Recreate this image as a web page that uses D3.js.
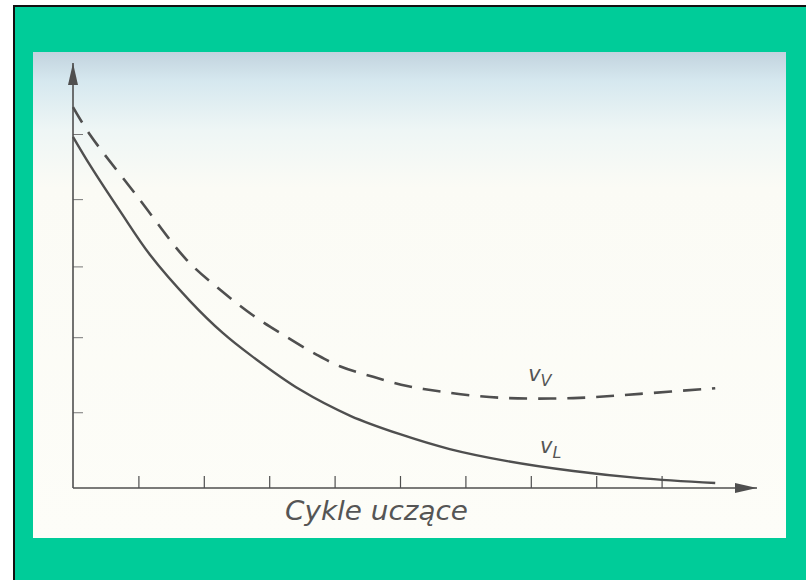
<!DOCTYPE html>
<html>
<head>
<meta charset="utf-8">
<script src="https://cdn.jsdelivr.net/npm/d3@7"></script>
<style>
  html, body { margin: 0; padding: 0; background: #fff; }
  svg { display: block; }
</style>
</head>
<body>
<div id="chart"></div>
<script>
// Data (x in learning cycles, y in arbitrary units)
const xTicks = [1, 2, 3, 4, 5, 6, 7, 8, 9];
const yTicks = [1.07, 2.13, 3.13, 4.08, 5];
const learnX = [0, 0.26, 0.72, 1.18, 1.79, 2.29, 2.71, 3.47, 4.24, 5.0, 5.76, 6.64, 7.65, 8.67, 9.82];
const learnY = [4.96, 4.56, 3.91, 3.29, 2.64, 2.19, 1.88, 1.39, 1.02, 0.76, 0.55, 0.38, 0.24, 0.14, 0.07];
const validX = [0, 0.26, 0.99, 1.74, 2.25, 2.75, 3.24, 3.73, 4.08, 4.59, 5.11, 5.57, 6.07, 6.64, 7.65, 8.67, 9.82];
const validY = [5.38, 4.99, 4.11, 3.22, 2.8, 2.44, 2.15, 1.88, 1.72, 1.57, 1.44, 1.37, 1.31, 1.27, 1.27, 1.33, 1.41];
const seriesLabels = [
  { main: "v", sub: "V", x: 6.96, y: 1.51 },
  { main: "v", sub: "L", x: 7.14, y: 0.49 }
];
const axisTitle = "Cykle uczące";

const W = 806, H = 580;
const ink = "#4f4f4f";

const svg = d3.select("#chart").append("svg")
  .attr("width", W)
  .attr("height", H);

const defs = svg.append("defs");
const grad = defs.append("linearGradient")
  .attr("id", "paper")
  .attr("x1", 0).attr("y1", 0).attr("x2", 0).attr("y2", 1);
[["0%", "#c2d3de"], ["6%", "#d6e8ef"], ["16%", "#eef6f5"], ["28%", "#fbfbf5"], ["100%", "#fdfdf8"]]
  .forEach(([o, c]) => grad.append("stop").attr("offset", o).attr("stop-color", c));

// Green frame with black border (only top/left visible)
svg.append("rect")
  .attr("x", 14).attr("y", 6)
  .attr("width", W + 20).attr("height", H + 20)
  .attr("fill", "#00cc99")
  .attr("stroke", "#111")
  .attr("stroke-width", 2);

// Scanned paper panel
svg.append("rect")
  .attr("x", 33).attr("y", 52)
  .attr("width", 753).attr("height", 486)
  .attr("fill", "url(#paper)");

// Scales
const x = d3.scaleLinear().domain([0, 10]).range([73, 727]);
const y = d3.scaleLinear().domain([0, 5]).range([488, 134]);

// Arrowhead
defs.append("marker")
  .attr("id", "arrow")
  .attr("viewBox", "0 0 10 10")
  .attr("refX", 10).attr("refY", 5)
  .attr("markerUnits", "userSpaceOnUse")
  .attr("markerWidth", 22).attr("markerHeight", 10)
  .attr("orient", "auto")
  .attr("preserveAspectRatio", "none")
  .append("path")
  .attr("d", "M0,0 L10,5 L0,10 Z")
  .attr("fill", ink);

// X axis ticks (upwards)
const gx = svg.append("g")
  .attr("transform", `translate(0,${y(0)})`)
  .call(d3.axisBottom(x).tickValues(xTicks).tickSize(-12).tickFormat(""));
gx.select(".domain").remove();
gx.selectAll(".tick line").attr("stroke", ink).attr("stroke-width", 1.2);

// Y axis ticks (rightwards)
const gy = svg.append("g")
  .attr("transform", `translate(${x(0)},0)`)
  .call(d3.axisLeft(y).tickValues(yTicks).tickSize(-10).tickFormat(""));
gy.select(".domain").remove();
gy.selectAll(".tick line").attr("stroke", "#777").attr("stroke-width", 1);

// Axis lines with arrows
svg.append("line")
  .attr("x1", x(0)).attr("y1", y(0))
  .attr("x2", 757).attr("y2", y(0))
  .attr("stroke", ink).attr("stroke-width", 1.6)
  .attr("marker-end", "url(#arrow)");
svg.append("line")
  .attr("x1", x(0)).attr("y1", y(0))
  .attr("x2", x(0)).attr("y2", 63)
  .attr("stroke", ink).attr("stroke-width", 1.6)
  .attr("marker-end", "url(#arrow)");

// Curves
const line = d3.line()
  .x(d => x(d[0]))
  .y(d => y(d[1]))
  .curve(d3.curveCatmullRom.alpha(0.5));

svg.append("path")
  .datum(d3.zip(validX, validY))
  .attr("fill", "none")
  .attr("stroke", ink)
  .attr("stroke-width", 2.6)
  .attr("stroke-dasharray", "18,11")
  .attr("d", line);

svg.append("path")
  .datum(d3.zip(learnX, learnY))
  .attr("fill", "none")
  .attr("stroke", ink)
  .attr("stroke-width", 2.4)
  .attr("d", line);

// Series labels
seriesLabels.forEach(l => {
  const t = svg.append("text")
    .attr("x", x(l.x)).attr("y", y(l.y))
    .attr("fill", "#555")
    .attr("font-family", "DejaVu Sans, sans-serif")
    .attr("font-weight", 300)
    .attr("font-style", "italic")
    .attr("font-size", 21);
  t.append("tspan").text(l.main);
  t.append("tspan").attr("font-size", 16).attr("dy", 5).text(l.sub);
});

// Axis title
svg.append("text")
  .attr("x", 285).attr("y", 520)
  .attr("fill", "#555")
  .attr("font-family", "DejaVu Sans, sans-serif")
  .attr("font-weight", 300)
  .attr("font-style", "italic")
  .attr("font-size", 27)
  .attr("textLength", 183)
  .attr("lengthAdjust", "spacingAndGlyphs")
  .text(axisTitle);
</script>
</body>
</html>
